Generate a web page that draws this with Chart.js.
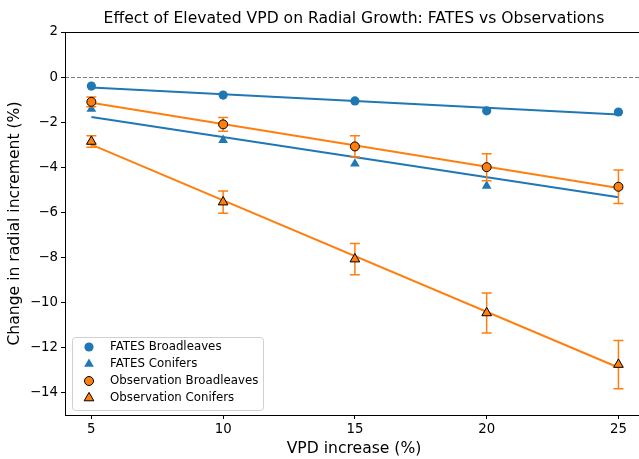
<!DOCTYPE html>
<html>
<head>
<meta charset="utf-8">
<script src="https://cdn.jsdelivr.net/npm/chart.js@4.4.1/dist/chart.umd.min.js"></script>
<style>
  html, body { margin: 0; padding: 0; background: #ffffff; }
  #wrap { width: 639px; height: 459px; }
</style>
</head>
<body>
<div id="wrap"><canvas id="grafica" width="639" height="459"></canvas></div>
<script>
// Datos
const vpd = [5, 10, 15, 20, 25];
const fatesBroad = [-0.4, -0.8, -1.06, -1.5, -1.55];
const fatesConif = [-1.42, -2.8, -3.85, -4.83, -4.85];
const obsBroad = [-1.1, -2.1, -3.08, -4.0, -4.87];
const obsBroadErr = [0.22, 0.3, 0.47, 0.6, 0.74];
const obsConif = [-2.86, -5.55, -8.08, -10.47, -12.76];
const obsConifErr = [0.26, 0.49, 0.69, 0.89, 1.07];

// Rectas de ajuste (extremos leídos)
const fitX = [5, 25];
const fitFatesBroad = [-0.46, -1.66];
const fitFatesConif = [-1.77, -5.33];
const fitObsBroad = [-1.14, -4.92];
const fitObsConif = [-3.0, -12.89];

const xTicks = [5, 10, 15, 20, 25];
const yTicks = [2, 0, -2, -4, -6, -8, -10, -12, -14];

const azul = '#1f77b4';
const naranja = '#ff7f0e';
const fuente = "'DejaVu Sans', sans-serif";

const pts = (xs, ys) => xs.map((x, i) => ({ x: x, y: ys[i] }));

const legendItems = [
  { label: 'FATES Broadleaves', style: 'circle', fill: azul, stroke: azul, bw: 0, r: 4.6 },
  { label: 'FATES Conifers', style: 'triangle', fill: azul, stroke: azul, bw: 0, r: 5.6 },
  { label: 'Observation Broadleaves', style: 'circle', fill: naranja, stroke: '#000000', bw: 1, r: 4.5 },
  { label: 'Observation Conifers', style: 'triangle', fill: naranja, stroke: '#000000', bw: 1, r: 5.6 }
];

// Barras de error y línea del cero, dibujadas antes de los puntos
const extras = {
  id: 'extras',
  beforeDatasetsDraw(chart) {
    const ctx = chart.ctx, y = chart.scales.y, a = chart.chartArea;
    const y0 = Math.round(y.getPixelForValue(0)) + 0.5;
    ctx.save();
    ctx.strokeStyle = '#7f7f7f';
    ctx.lineWidth = 1;
    ctx.setLineDash([4, 2]);
    ctx.beginPath();
    ctx.moveTo(a.left, y0);
    ctx.lineTo(a.right, y0);
    ctx.stroke();
    ctx.restore();
  },
  beforeDatasetDraw(chart, args) {
    const ds = chart.data.datasets[args.index];
    if (!ds.errores) return;
    const ctx = chart.ctx, x = chart.scales.x, y = chart.scales.y;
    ctx.save();
    ctx.strokeStyle = naranja;
    ctx.lineWidth = 1.5;
    ds.data.forEach((p, i) => {
      const px = x.getPixelForValue(p.x);
      const top = y.getPixelForValue(p.y + ds.errores[i]);
      const bot = y.getPixelForValue(p.y - ds.errores[i]);
      ctx.beginPath();
      ctx.moveTo(px, top); ctx.lineTo(px, bot);
      ctx.moveTo(px - 5, top); ctx.lineTo(px + 5, top);
      ctx.moveTo(px - 5, bot); ctx.lineTo(px + 5, bot);
      ctx.stroke();
    });
    ctx.restore();
  },
  afterDraw(chart) {
    const ctx = chart.ctx, a = chart.chartArea;
    ctx.save();
    // Ejes (izquierdo, inferior, superior)
    ctx.strokeStyle = '#000000';
    ctx.lineWidth = 1;
    ctx.beginPath();
    ctx.moveTo(a.left + 0.5, a.top); ctx.lineTo(a.left + 0.5, a.bottom);
    ctx.moveTo(a.left, a.bottom + 0.5); ctx.lineTo(a.right, a.bottom + 0.5);
    ctx.moveTo(a.left, a.top + 0.5); ctx.lineTo(a.right, a.top + 0.5);
    ctx.stroke();

    // Títulos
    ctx.fillStyle = '#000000';
    ctx.textAlign = 'center';
    ctx.textBaseline = 'middle';
    ctx.font = '15.6px ' + fuente;
    ctx.fillText('Effect of Elevated VPD on Radial Growth: FATES vs Observations', 354, 19);
    ctx.fillText('VPD increase (%)', 354, 449);
    ctx.save();
    ctx.translate(15, (a.top + a.bottom) / 2);
    ctx.rotate(-Math.PI / 2);
    ctx.fillText('Change in radial increment (%)', 0, 0);
    ctx.restore();

    // Leyenda
    const lx = 72, ly = 337, lw = 191, lh = 73;
    ctx.fillStyle = 'rgba(255,255,255,0.8)';
    ctx.strokeStyle = '#d0d0d0';
    ctx.lineWidth = 1;
    ctx.beginPath();
    ctx.roundRect(lx + 0.5, ly + 0.5, lw, lh, 3);
    ctx.fill();
    ctx.stroke();
    ctx.font = '11.8px ' + fuente;
    ctx.textAlign = 'left';
    legendItems.forEach((it, i) => {
      const cy = ly + 10 + i * 17;
      ctx.fillStyle = it.fill;
      ctx.strokeStyle = it.stroke;
      ctx.lineWidth = it.bw;
      Chart.helpers.drawPoint(ctx, { pointStyle: it.style, radius: it.r, rotation: 0, borderWidth: it.bw }, 89, cy);
      ctx.fillStyle = '#000000';
      ctx.fillText(it.label, 110, cy);
    });
    ctx.restore();
  }
};

const lineaAjuste = (ys, color) => ({
  type: 'line',
  data: pts(fitX, ys),
  borderColor: color,
  borderWidth: 2,
  pointRadius: 0,
  fill: false,
  order: 10
});

const ctx = document.getElementById('grafica').getContext('2d');
new Chart(ctx, {
  type: 'scatter',
  data: {
    datasets: [
      { label: 'Observation Conifers', data: pts(vpd, obsConif), errores: obsConifErr,
        pointStyle: 'triangle', pointRadius: 5.6, backgroundColor: naranja, borderColor: '#000000', borderWidth: 1, order: 1 },
      { label: 'Observation Broadleaves', data: pts(vpd, obsBroad), errores: obsBroadErr,
        pointStyle: 'circle', pointRadius: 4.5, backgroundColor: naranja, borderColor: '#000000', borderWidth: 1, order: 2 },
      { label: 'FATES Conifers', data: pts(vpd, fatesConif),
        pointStyle: 'triangle', pointRadius: 5.6, backgroundColor: azul, borderColor: azul, borderWidth: 0, order: 3 },
      { label: 'FATES Broadleaves', data: pts(vpd, fatesBroad),
        pointStyle: 'circle', pointRadius: 4.6, backgroundColor: azul, borderColor: azul, borderWidth: 0, order: 4 },
      lineaAjuste(fitObsConif, naranja),
      lineaAjuste(fitObsBroad, naranja),
      lineaAjuste(fitFatesConif, azul),
      lineaAjuste(fitFatesBroad, azul)
    ]
  },
  options: {
    responsive: false,
    animation: false,
    devicePixelRatio: 1,
    layout: { autoPadding: false, padding: { top: 32, left: 0, right: 0, bottom: 0 } },
    plugins: { legend: { display: false }, title: { display: false }, tooltip: { enabled: false } },
    scales: {
      x: {
        type: 'linear', min: 4, max: 25.78,
        afterBuildTicks: s => { s.ticks = xTicks.map(v => ({ value: v })); },
        afterFit: s => { s.height = 44; s.paddingLeft = 0; s.paddingRight = 0; },
        grid: { display: true, drawOnChartArea: false, drawTicks: true, tickLength: 4, color: '#000000' },
        border: { display: false },
        ticks: { color: '#000000', font: { family: fuente, size: 13.3 }, padding: 3, maxRotation: 0 }
      },
      y: {
        type: 'linear', min: -15, max: 2,
        afterBuildTicks: s => { s.ticks = yTicks.map(v => ({ value: v })); },
        afterFit: s => { s.width = 65; s.paddingTop = 0; s.paddingBottom = 0; },
        grid: { display: true, drawOnChartArea: false, drawTicks: true, tickLength: 4, color: '#000000' },
        border: { display: false },
        ticks: { color: '#000000', font: { family: fuente, size: 13.3 }, padding: 3,
          callback: v => String(v).replace('-', '\u2212') }
      }
    }
  },
  plugins: [extras]
});
</script>
</body>
</html>
